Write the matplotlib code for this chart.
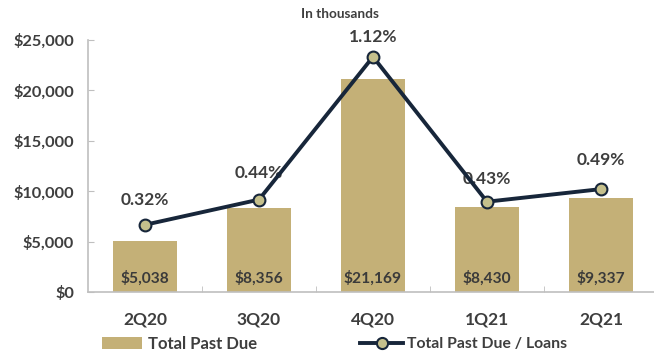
import matplotlib
matplotlib.use("Agg")
import matplotlib.pyplot as plt
from matplotlib.ticker import FuncFormatter, FixedLocator
from matplotlib.lines import Line2D
from matplotlib.patches import Patch

categories = ["2Q20", "3Q20", "4Q20", "1Q21", "2Q21"]
past_due = [5038, 8356, 21169, 8430, 9337]
past_due_pct = [0.32, 0.44, 1.12, 0.43, 0.49]
yticks = [0, 5000, 10000, 15000, 20000, 25000]

plt.rcParams['font.family'] = ['Lato', 'DejaVu Sans']
plt.rcParams['font.weight'] = 'bold'

BAR = '#C4B077'
LINE = '#17263A'
MFACE = '#C5C08C'
TXT = '#3E3E3E'
GRAY = '#BFBFBF'

fig = plt.figure(figsize=(6.54, 3.58), dpi=100)
W, H = 654, 358
left_px, right_px, top_px, bot_px = 88, 654, 40, 292
ax = fig.add_axes([left_px / W, 1 - bot_px / H, (right_px - left_px) / W, (bot_px - top_px) / H])
x = list(range(len(categories)))
ax.bar(x, past_due, width=0.56, color=BAR, zorder=2)
ax.set_xlim(-0.5, -0.5 + (right_px - left_px) / 114.0)
ax.set_ylim(0, 25000)
ax.yaxis.set_major_locator(FixedLocator(yticks))
ax.yaxis.set_major_formatter(FuncFormatter(lambda v, p: f"${v:,.0f}"))
ax.set_xticks(x)
ax.set_xticklabels(categories)
ax.set_xticks([i + 0.5 for i in x[:-1]], minor=True)
for s in ['top', 'right']:
    ax.spines[s].set_visible(False)
for s in ['left', 'bottom']:
    ax.spines[s].set_color(GRAY)
    ax.spines[s].set_linewidth(1.2)
ax.tick_params(axis='y', direction='in', length=4, color=GRAY, labelsize=11.8, labelcolor=TXT, pad=10)
ax.tick_params(axis='x', which='major', length=0, labelsize=12.5, labelcolor=TXT, pad=14)
ax.tick_params(axis='x', which='minor', direction='in', length=4, color=GRAY)
for lab in ax.get_yticklabels() + ax.get_xticklabels():
    lab.set_fontweight('bold')

for xi, v in zip(x, past_due):
    ax.text(xi, 1400, f"${v:,}", ha='center', va='center', fontsize=11.2, color='#3A3A3A', fontweight='bold', zorder=3)

ax2 = ax.twinx()
ax2.set_ylim(0, 1.2)
ax2.axis('off')
ax2.plot(x, past_due_pct, color=LINE, lw=2.8, marker='o', ms=8.5, mfc=MFACE, mec=LINE, mew=1.5, zorder=4)
offsets = [25, 27, 20, 23, 29]
for xi, v, o in zip(x, past_due_pct, offsets):
    ax2.annotate(f"{v:.2f}%", (xi, v), xytext=(0, o), textcoords='offset pixels', ha='center', va='center',
                 fontsize=12.5, color=TXT, fontweight='bold', annotation_clip=False)

fig.text(340 / W, 1 - 14 / H, "In thousands", ha='center', va='center', fontsize=9.8, color=TXT, fontweight='bold')

leg1 = fig.legend([Patch(facecolor=BAR, edgecolor='none')], ["Total Past Due"], loc='center left',
                  bbox_to_anchor=(102 / W, 1 - 344 / H), frameon=False, fontsize=12,
                  handlelength=2.4, handleheight=0.75, handletextpad=0.36, borderaxespad=0, borderpad=0)
leg2 = fig.legend([Line2D([0], [0], color=LINE, lw=2.8, marker='o', ms=8, mfc=MFACE, mec=LINE, mew=1.5)],
                  ["Total Past Due / Loans"], loc='center left',
                  bbox_to_anchor=(360 / W, 1 - 344 / H), frameon=False, fontsize=11.3,
                  handlelength=2.75, handletextpad=0.25, borderaxespad=0, borderpad=0)
for leg in (leg1, leg2):
    for t in leg.get_texts():
        t.set_color(TXT)
        t.set_fontweight('bold')

fig.savefig("out.png", dpi=100)
